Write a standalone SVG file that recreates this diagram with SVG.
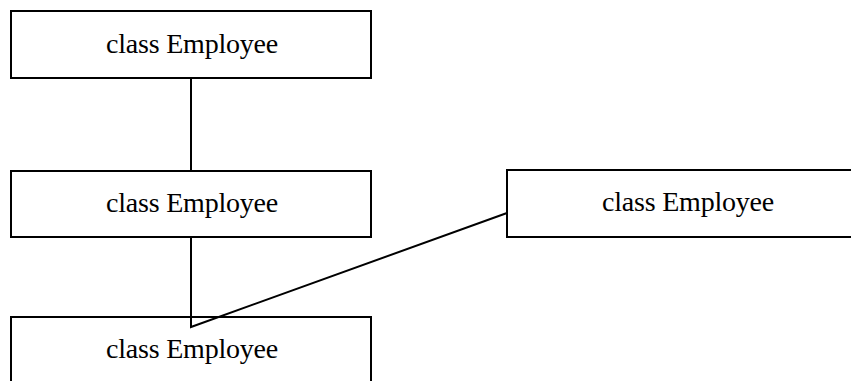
<svg xmlns="http://www.w3.org/2000/svg" width="851" height="381" viewBox="0 0 851 381">
  <style>
    .box { fill: #ffffff; stroke: #000000; stroke-width: 2; }
    .label { font-family: "Liberation Serif", "Times New Roman", serif; font-size: 28px; fill: #000000; text-anchor: middle; letter-spacing: -0.2px; }
    .link { fill: none; stroke: #000000; stroke-width: 2; }
  </style>
  <rect width="851" height="381" fill="#ffffff"/>
  <g id="node-top">
    <rect class="box" x="11" y="11" width="360" height="67"/>
    <text class="label" x="192" y="53">class Employee</text>
  </g>
  <g id="node-middle">
    <rect class="box" x="11" y="171" width="360" height="66"/>
    <text class="label" x="192" y="212">class Employee</text>
  </g>
  <g id="node-right">
    <rect class="box" x="507" y="170" width="360" height="67"/>
    <text class="label" x="688" y="211">class Employee</text>
  </g>
  <g id="node-bottom">
    <rect class="box" x="11" y="317" width="360" height="67"/>
    <text class="label" x="192" y="358">class Employee</text>
  </g>
  <!-- connectors drawn last so the bend inside the bottom box stays visible -->
  <g id="connectors">
    <line class="link" x1="191" y1="78" x2="191" y2="171"/>
    <polyline class="link" points="191,237 191,327 507,213"/>
  </g>
</svg>
